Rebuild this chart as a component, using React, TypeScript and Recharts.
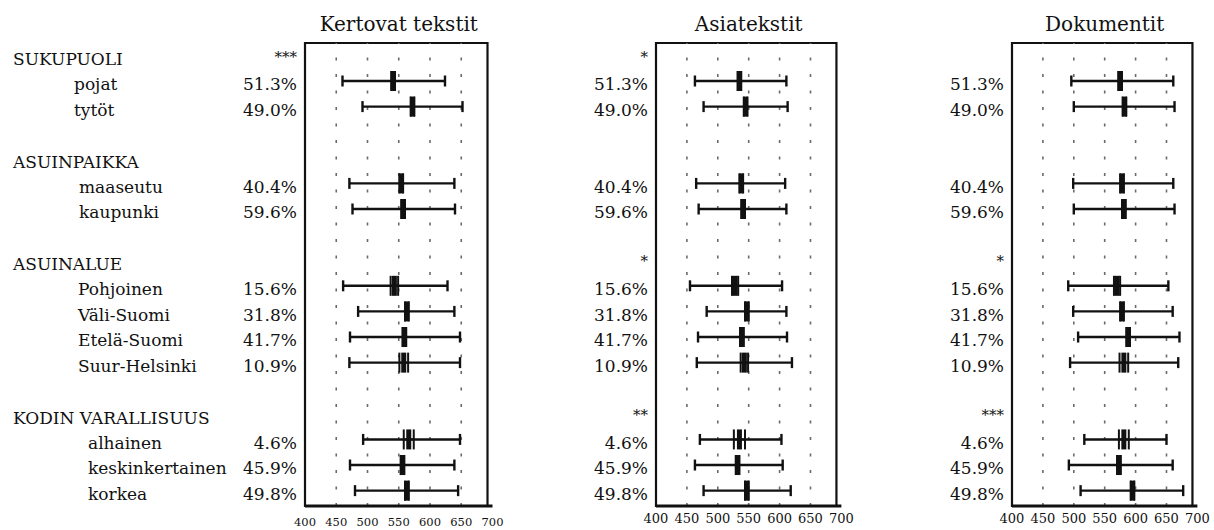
import { ScatterChart, Scatter, XAxis, YAxis, ErrorBar, ReferenceLine, ReferenceArea } from "recharts";

const FONT = '"DejaVu Serif", serif';
const INK = "#111";

// background groups and their members, top to bottom
const groups = ["SUKUPUOLI", "ASUINPAIKKA", "ASUINALUE", "KODIN VARALLISUUS"];
const members = [
  ["pojat", "tytöt"],
  ["maaseutu", "kaupunki"],
  ["Pohjoinen", "Väli-Suomi", "Etelä-Suomi", "Suur-Helsinki"],
  ["alhainen", "keskinkertainen", "korkea"],
];
const shares = [51.3, 49.0, 40.4, 59.6, 15.6, 31.8, 41.7, 10.9, 4.6, 45.9, 49.8];

const scoreTicks = [400, 450, 500, 550, 600, 650, 700];
const gridValues = [450, 500, 550, 600, 650];

// Kertovat tekstit
const narrP5 = [460, 492, 471, 476, 461, 485, 472, 471, 493, 472, 480];
const narrMean = [541, 572, 554, 557, 543, 563, 559, 558, 566, 556, 563];
const narrP95 = [624, 652, 639, 640, 628, 639, 648, 648, 648, 639, 645];
const narrCi = [3, 3, 3, 3, 6, 3, 3, 7, 8, 3, 3];
const narrStars = ["***", "", "", ""];

// Asiatekstit
const infoP5 = [463, 477, 465, 469, 455, 482, 468, 466, 471, 463, 477];
const infoMean = [535, 545, 538, 541, 528, 547, 539, 543, 535, 532, 547];
const infoP95 = [611, 613, 609, 611, 604, 611, 612, 620, 603, 605, 618];
const infoCi = [3, 3, 3, 3, 5, 3, 3, 6, 9, 3, 3];
const infoStars = ["*", "", "*", "**"];

// Dokumentit
const docP5 = [496, 500, 499, 500, 491, 499, 507, 494, 517, 492, 511];
const docMean = [575, 582, 578, 581, 570, 578, 588, 581, 581, 573, 595];
const docP95 = [661, 663, 661, 663, 653, 660, 671, 669, 650, 660, 677];
const docCi = [3, 3, 3, 3, 5, 3, 3, 7, 8, 3, 3];
const docStars = ["", "", "*", "***"];

// row index for every header and member (a blank row between groups)
type RowInfo = { kind: "group" | "item"; group: number; item: number; text: string };
const rowInfo: RowInfo[] = [];
const itemRows: number[] = [];
{
  let r = 0;
  let k = 0;
  groups.forEach((g, gi) => {
    rowInfo[r] = { kind: "group", group: gi, item: -1, text: g };
    r++;
    members[gi].forEach((m) => {
      rowInfo[r] = { kind: "item", group: gi, item: k, text: m };
      itemRows.push(r);
      r++;
      k++;
    });
    r++;
  });
}
const rowTicks = rowInfo.map((_, i) => i).filter((i) => rowInfo[i]);

const panels = [
  { title: "Kertovat tekstit", p5: narrP5, mean: narrMean, p95: narrP95, ci: narrCi, stars: narrStars },
  { title: "Asiatekstit", p5: infoP5, mean: infoMean, p95: infoP95, ci: infoCi, stars: infoStars },
  { title: "Dokumentit", p5: docP5, mean: docMean, p95: docP95, ci: docCi, stars: docStars },
];

// placement of each panel on the page
const frames = [
  { left: 0, yWidth: 305, plotWidth: 187.5, axisFont: 11.5, axisGap: 6, names: true },
  { left: 571, yWidth: 85, plotWidth: 185.4, axisFont: 13, axisGap: 2, names: false },
  { left: 927, yWidth: 85, plotWidth: 185.4, axisFont: 13, axisGap: 2, names: false },
];
const groupIndent = [74, 79, 78, 88];
const CHART_H = 530;
const TOP = 43;
const X_AXIS_H = 24;
const BOX_RIGHT = 692;

const MeanMark = (p: any) => (
  <rect x={p.cx - 2.5} y={p.cy - 10} width={5} height={20} fill={INK} />
);

function Panel({ index }: { index: number }) {
  const pn = panels[index];
  const fr = frames[index];
  const rows = itemRows.map((row, k) => ({
    row,
    mean: pn.mean[k],
    whisker: [pn.mean[k] - pn.p5[k], pn.p95[k] - pn.mean[k]],
    ciErr: [pn.ci[k], pn.ci[k]],
  }));

  const renderTick = (props: any) => {
    const { y, payload } = props;
    const info = rowInfo[payload.value];
    if (!info) return <g />;
    const right = fr.yWidth - 8;
    if (info.kind === "group") {
      const star = pn.stars[info.group];
      return (
        <g fontFamily={FONT} fill={INK}>
          {fr.names && (
            <text x={13} y={y + 4} dy="0.35em" fontSize={17}>
              {info.text}
            </text>
          )}
          {star && (
            <text x={right} y={y + 1} dy="0.35em" fontSize={15} textAnchor="end">
              {star}
            </text>
          )}
        </g>
      );
    }
    return (
      <g fontFamily={FONT} fill={INK} fontSize={17}>
        {fr.names && (
          <text x={groupIndent[info.group]} y={y + 3.5} dy="0.35em">
            {info.text}
          </text>
        )}
        <text x={right} y={y + 3.5} dy="0.35em" textAnchor="end">
          {shares[info.item].toFixed(1)}%
        </text>
      </g>
    );
  };

  return (
    <div style={{ position: "absolute", left: fr.left, top: 0 }}>
      <div
        style={{
          position: "absolute",
          left: fr.yWidth,
          width: fr.plotWidth,
          top: 12,
          lineHeight: "24px",
          textAlign: "center",
          fontFamily: FONT,
          fontSize: 20,
          color: INK,
          whiteSpace: "nowrap",
        }}
      >
        {pn.title}
      </div>
      <ScatterChart
        width={fr.yWidth + fr.plotWidth + 14}
        height={CHART_H}
        margin={{ top: TOP, right: 14, bottom: 0, left: 0 }}
      >
        <XAxis
          type="number"
          dataKey="mean"
          domain={[400, 700]}
          ticks={scoreTicks}
          interval={0}
          height={X_AXIS_H}
          tickLine={false}
          tickMargin={fr.axisGap}
          axisLine={{ stroke: INK, strokeWidth: 3 }}
          tick={{ fontFamily: FONT, fontSize: fr.axisFont, fill: INK }}
        />
        <YAxis
          type="number"
          dataKey="row"
          domain={[-0.484, 17.6]}
          reversed
          ticks={rowTicks}
          interval={0}
          width={fr.yWidth}
          tickLine={false}
          axisLine={false}
          tick={renderTick}
        />
        {gridValues.map((v) => (
          <ReferenceLine
            key={v}
            x={v}
            stroke="#6a6a6a"
            strokeWidth={1.6}
            strokeDasharray="3 13.5"
          />
        ))}
        <ReferenceArea x1={400} x2={BOX_RIGHT} fill="none" fillOpacity={0} stroke={INK} strokeWidth={2.2} />
        <Scatter data={rows} shape={MeanMark} isAnimationActive={false}>
          <ErrorBar dataKey="whisker" direction="x" width={5.5} strokeWidth={2.4} stroke={INK} />
          <ErrorBar dataKey="ciErr" direction="x" width={10} strokeWidth={2} stroke={INK} />
        </Scatter>
      </ScatterChart>
    </div>
  );
}

export default function App() {
  return (
    <div style={{ position: "relative", width: 1214, height: 530, background: "#fff" }}>
      <style>{`body{margin:0}`}</style>
      {panels.map((_, i) => (
        <Panel key={i} index={i} />
      ))}
    </div>
  );
}
